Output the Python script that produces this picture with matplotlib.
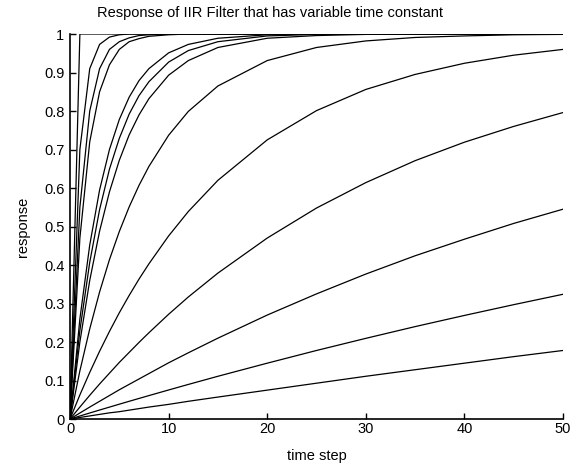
import matplotlib
matplotlib.use("Agg")
import matplotlib.pyplot as plt

time_steps = [0, 1, 2, 3, 4, 5, 6, 7, 8, 10, 12, 15, 20, 25, 30, 35, 40, 45, 50]

# step responses, fastest first
resp_01 = [0, 1.0, 1.0, 1.0, 1.0, 1.0, 1.0, 1.0, 1.0, 1.0, 1.0, 1.0, 1.0, 1.0, 1.0, 1.0, 1.0, 1.0, 1.0]
resp_02 = [0, 0.70, 0.91, 0.973, 0.992, 0.998, 1.0, 1.0, 1.0, 1.0, 1.0, 1.0, 1.0, 1.0, 1.0, 1.0, 1.0, 1.0, 1.0]
resp_03 = [0, 0.55, 0.80, 0.91, 0.96, 0.98, 0.99, 0.996, 0.998, 1.0, 1.0, 1.0, 1.0, 1.0, 1.0, 1.0, 1.0, 1.0, 1.0]
resp_04 = [0, 0.47, 0.72, 0.85, 0.92, 0.96, 0.98, 0.988, 0.994, 0.998, 1.0, 1.0, 1.0, 1.0, 1.0, 1.0, 1.0, 1.0, 1.0]
resp_05 = [0, 0.26, 0.452, 0.595, 0.70, 0.778, 0.836, 0.879, 0.91, 0.951, 0.973, 0.989, 0.998, 1.0, 1.0, 1.0, 1.0, 1.0, 1.0]
resp_06 = [0, 0.23, 0.407, 0.544, 0.649, 0.729, 0.792, 0.840, 0.876, 0.927, 0.957, 0.980, 0.995, 0.999, 1.0, 1.0, 1.0, 1.0, 1.0]
resp_07 = [0, 0.20, 0.36, 0.488, 0.59, 0.672, 0.738, 0.79, 0.832, 0.893, 0.931, 0.965, 0.989, 0.996, 0.999, 1.0, 1.0, 1.0, 1.0]
resp_08 = [0, 0.125, 0.234, 0.33, 0.414, 0.487, 0.551, 0.607, 0.656, 0.737, 0.799, 0.865, 0.931, 0.965, 0.982, 0.991, 0.995, 0.998, 0.999]
resp_09 = [0, 0.0625, 0.121, 0.176, 0.2275, 0.276, 0.321, 0.3635, 0.403, 0.4755, 0.539, 0.620, 0.725, 0.801, 0.856, 0.895, 0.924, 0.945, 0.960]
resp_10 = [0, 0.031, 0.0615, 0.091, 0.119, 0.147, 0.173, 0.199, 0.224, 0.272, 0.317, 0.379, 0.470, 0.548, 0.614, 0.671, 0.719, 0.760, 0.796]
resp_11 = [0, 0.0156, 0.031, 0.046, 0.061, 0.076, 0.090, 0.104, 0.118, 0.146, 0.172, 0.210, 0.270, 0.325, 0.3765, 0.424, 0.467, 0.508, 0.545]
resp_12 = [0, 0.0078, 0.0156, 0.0233, 0.0309, 0.0385, 0.046, 0.0534, 0.0608, 0.0754, 0.0898, 0.111, 0.145, 0.178, 0.2095, 0.240, 0.269, 0.297, 0.324]
resp_13 = [0, 0.004, 0.008, 0.012, 0.016, 0.019, 0.023, 0.027, 0.031, 0.038, 0.046, 0.057, 0.075, 0.093, 0.111, 0.128, 0.145, 0.162, 0.178]

responses = [resp_01, resp_02, resp_03, resp_04, resp_05, resp_06, resp_07,
             resp_08, resp_09, resp_10, resp_11, resp_12, resp_13]

x_ticks = [0, 10, 20, 30, 40, 50]
y_ticks = [0, 0.1, 0.2, 0.3, 0.4, 0.5, 0.6, 0.7, 0.8, 0.9, 1]
y_tick_labels = ["0", "0.1", "0.2", "0.3", "0.4", "0.5", "0.6", "0.7", "0.8", "0.9", "1"]

plt.rcParams["font.family"] = ["Liberation Sans", "DejaVu Sans"]

fig = plt.figure(figsize=(5.82, 4.69), dpi=100)
ax = fig.add_axes([0.1203, 0.1066, 0.8471, 0.8209])

for resp in responses:
    ax.plot(time_steps, resp, color="black", linewidth=0.9)

ax.set_xlim(0, 50)
ax.set_ylim(0, 1)
ax.set_xticks(x_ticks)
ax.set_yticks(y_ticks)
ax.set_yticklabels(y_tick_labels)
ax.tick_params(direction="in", length=4, width=1, labelsize=10.5, colors="black")
ax.tick_params(axis="x", pad=2)
ax.tick_params(axis="y", pad=4)

ax.spines["top"].set_visible(False)
ax.spines["right"].set_visible(False)
ax.spines["left"].set_linewidth(1.2)
ax.spines["bottom"].set_linewidth(1.2)

# title sits left of the axes centre in the original
ax.set_title("Response of IIR Filter that has variable time constant",
             fontsize=10.5, x=0.406, pad=12)
ax.set_xlabel("time step", fontsize=10.5, labelpad=9.5)
ax.set_ylabel("response", fontsize=10.5, labelpad=10)

fig.savefig("out.png", dpi=100)
